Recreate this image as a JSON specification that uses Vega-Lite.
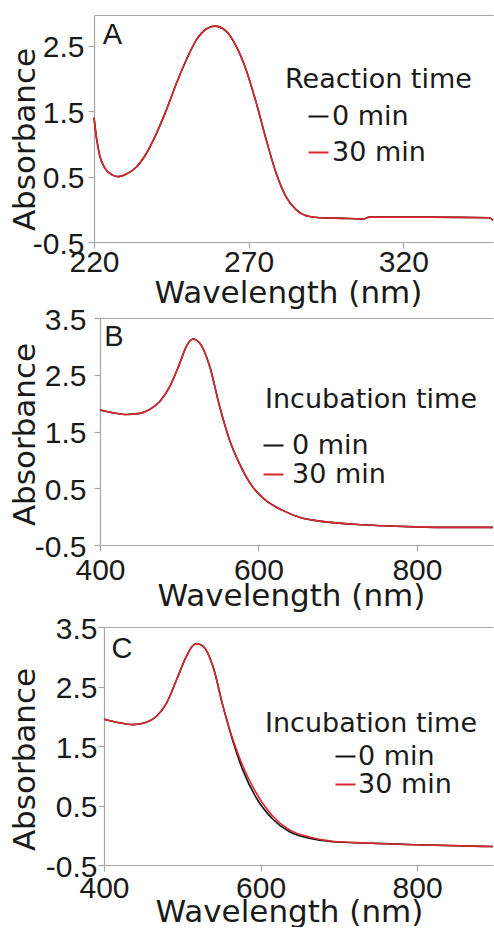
{
  "$schema": "https://vega.github.io/schema/vega-lite/v6.json",
  "background": "white",
  "padding": {"left": 8, "top": 15, "right": 0, "bottom": 0},
  "autosize": {"type": "pad"},
  "datasets": {
    "A": [
      {"wl": 220, "abs": 1.40, "time": "0 min"}, {"wl": 220.9, "abs": 1.06, "time": "0 min"}, {"wl": 221.9, "abs": 0.81, "time": "0 min"}, {"wl": 223.5, "abs": 0.63, "time": "0 min"}, {"wl": 225.7, "abs": 0.53, "time": "0 min"}, {"wl": 227.8, "abs": 0.50, "time": "0 min"}, {"wl": 230.5, "abs": 0.54, "time": "0 min"}, {"wl": 233.8, "abs": 0.65, "time": "0 min"}, {"wl": 237, "abs": 0.86, "time": "0 min"}, {"wl": 240.2, "abs": 1.16, "time": "0 min"}, {"wl": 243.4, "abs": 1.52, "time": "0 min"}, {"wl": 246.7, "abs": 1.93, "time": "0 min"}, {"wl": 249.9, "abs": 2.29, "time": "0 min"}, {"wl": 253.1, "abs": 2.59, "time": "0 min"}, {"wl": 256.4, "abs": 2.76, "time": "0 min"}, {"wl": 259, "abs": 2.80, "time": "0 min"}, {"wl": 262.8, "abs": 2.72, "time": "0 min"}, {"wl": 266, "abs": 2.49, "time": "0 min"}, {"wl": 269.2, "abs": 2.13, "time": "0 min"}, {"wl": 272.5, "abs": 1.62, "time": "0 min"}, {"wl": 275.7, "abs": 1.06, "time": "0 min"}, {"wl": 278.9, "abs": 0.55, "time": "0 min"}, {"wl": 282.1, "abs": 0.19, "time": "0 min"}, {"wl": 285.4, "abs": -0.01, "time": "0 min"}, {"wl": 288.6, "abs": -0.10, "time": "0 min"}, {"wl": 292.9, "abs": -0.13, "time": "0 min"}, {"wl": 302.6, "abs": -0.14, "time": "0 min"}, {"wl": 307, "abs": -0.15, "time": "0 min"}, {"wl": 309, "abs": -0.12, "time": "0 min"}, {"wl": 329.5, "abs": -0.12, "time": "0 min"}, {"wl": 347.7, "abs": -0.13, "time": "0 min"}, {"wl": 349, "abs": -0.17, "time": "0 min"},
      {"wl": 220, "abs": 1.40, "time": "30 min"}, {"wl": 220.9, "abs": 1.06, "time": "30 min"}, {"wl": 221.9, "abs": 0.81, "time": "30 min"}, {"wl": 223.5, "abs": 0.63, "time": "30 min"}, {"wl": 225.7, "abs": 0.53, "time": "30 min"}, {"wl": 227.8, "abs": 0.50, "time": "30 min"}, {"wl": 230.5, "abs": 0.54, "time": "30 min"}, {"wl": 233.8, "abs": 0.65, "time": "30 min"}, {"wl": 237, "abs": 0.86, "time": "30 min"}, {"wl": 240.2, "abs": 1.16, "time": "30 min"}, {"wl": 243.4, "abs": 1.52, "time": "30 min"}, {"wl": 246.7, "abs": 1.93, "time": "30 min"}, {"wl": 249.9, "abs": 2.29, "time": "30 min"}, {"wl": 253.1, "abs": 2.59, "time": "30 min"}, {"wl": 256.4, "abs": 2.76, "time": "30 min"}, {"wl": 259, "abs": 2.80, "time": "30 min"}, {"wl": 262.8, "abs": 2.72, "time": "30 min"}, {"wl": 266, "abs": 2.49, "time": "30 min"}, {"wl": 269.2, "abs": 2.13, "time": "30 min"}, {"wl": 272.5, "abs": 1.62, "time": "30 min"}, {"wl": 275.7, "abs": 1.06, "time": "30 min"}, {"wl": 278.9, "abs": 0.55, "time": "30 min"}, {"wl": 282.1, "abs": 0.19, "time": "30 min"}, {"wl": 285.4, "abs": -0.01, "time": "30 min"}, {"wl": 288.6, "abs": -0.10, "time": "30 min"}, {"wl": 292.9, "abs": -0.13, "time": "30 min"}, {"wl": 302.6, "abs": -0.14, "time": "30 min"}, {"wl": 307, "abs": -0.15, "time": "30 min"}, {"wl": 309, "abs": -0.12, "time": "30 min"}, {"wl": 329.5, "abs": -0.12, "time": "30 min"}, {"wl": 347.7, "abs": -0.13, "time": "30 min"}, {"wl": 349, "abs": -0.17, "time": "30 min"}
    ],
    "B": [
      {"wl": 400, "abs": 1.88, "time": "0 min"}, {"wl": 416.8, "abs": 1.83, "time": "0 min"}, {"wl": 433.5, "abs": 1.80, "time": "0 min"}, {"wl": 450.3, "abs": 1.82, "time": "0 min"}, {"wl": 462.9, "abs": 1.89, "time": "0 min"}, {"wl": 475.5, "abs": 2.03, "time": "0 min"}, {"wl": 488, "abs": 2.29, "time": "0 min"}, {"wl": 500.6, "abs": 2.70, "time": "0 min"}, {"wl": 509, "abs": 3.00, "time": "0 min"}, {"wl": 517.4, "abs": 3.13, "time": "0 min"}, {"wl": 525.8, "abs": 3.06, "time": "0 min"}, {"wl": 538.4, "abs": 2.65, "time": "0 min"}, {"wl": 551, "abs": 1.94, "time": "0 min"}, {"wl": 563.5, "abs": 1.35, "time": "0 min"}, {"wl": 576.1, "abs": 0.93, "time": "0 min"}, {"wl": 592.9, "abs": 0.52, "time": "0 min"}, {"wl": 609.7, "abs": 0.28, "time": "0 min"}, {"wl": 630.6, "abs": 0.11, "time": "0 min"}, {"wl": 651.6, "abs": -0.01, "time": "0 min"}, {"wl": 672.6, "abs": -0.07, "time": "0 min"}, {"wl": 714.5, "abs": -0.13, "time": "0 min"}, {"wl": 756.4, "abs": -0.16, "time": "0 min"}, {"wl": 798.3, "abs": -0.18, "time": "0 min"}, {"wl": 840.3, "abs": -0.19, "time": "0 min"}, {"wl": 896, "abs": -0.19, "time": "0 min"},
      {"wl": 400, "abs": 1.88, "time": "30 min"}, {"wl": 416.8, "abs": 1.83, "time": "30 min"}, {"wl": 433.5, "abs": 1.80, "time": "30 min"}, {"wl": 450.3, "abs": 1.82, "time": "30 min"}, {"wl": 462.9, "abs": 1.89, "time": "30 min"}, {"wl": 475.5, "abs": 2.03, "time": "30 min"}, {"wl": 488, "abs": 2.29, "time": "30 min"}, {"wl": 500.6, "abs": 2.70, "time": "30 min"}, {"wl": 509, "abs": 3.00, "time": "30 min"}, {"wl": 517.4, "abs": 3.13, "time": "30 min"}, {"wl": 525.8, "abs": 3.06, "time": "30 min"}, {"wl": 538.4, "abs": 2.65, "time": "30 min"}, {"wl": 551, "abs": 1.94, "time": "30 min"}, {"wl": 563.5, "abs": 1.35, "time": "30 min"}, {"wl": 576.1, "abs": 0.93, "time": "30 min"}, {"wl": 592.9, "abs": 0.52, "time": "30 min"}, {"wl": 609.7, "abs": 0.28, "time": "30 min"}, {"wl": 630.6, "abs": 0.11, "time": "30 min"}, {"wl": 651.6, "abs": -0.01, "time": "30 min"}, {"wl": 672.6, "abs": -0.07, "time": "30 min"}, {"wl": 714.5, "abs": -0.13, "time": "30 min"}, {"wl": 756.4, "abs": -0.16, "time": "30 min"}, {"wl": 798.3, "abs": -0.18, "time": "30 min"}, {"wl": 840.3, "abs": -0.19, "time": "30 min"}, {"wl": 896, "abs": -0.19, "time": "30 min"}
    ],
    "C": [
      {"wl": 400, "abs": 1.95, "time": "0 min"}, {"wl": 416.2, "abs": 1.90, "time": "0 min"}, {"wl": 437.3, "abs": 1.86, "time": "0 min"}, {"wl": 454.4, "abs": 1.90, "time": "0 min"}, {"wl": 467.1, "abs": 2.00, "time": "0 min"}, {"wl": 479.9, "abs": 2.22, "time": "0 min"}, {"wl": 492.6, "abs": 2.61, "time": "0 min"}, {"wl": 505.4, "abs": 3.01, "time": "0 min"}, {"wl": 513, "abs": 3.18, "time": "0 min"}, {"wl": 518.1, "abs": 3.22, "time": "0 min"}, {"wl": 526.5, "abs": 3.18, "time": "0 min"}, {"wl": 539.2, "abs": 2.84, "time": "0 min"}, {"wl": 552, "abs": 2.17, "time": "0 min"}, {"wl": 564.7, "abs": 1.58, "time": "0 min"}, {"wl": 577.5, "abs": 1.09, "time": "0 min"}, {"wl": 594.5, "abs": 0.63, "time": "0 min"}, {"wl": 615.7, "abs": 0.27, "time": "0 min"}, {"wl": 637, "abs": 0.06, "time": "0 min"}, {"wl": 662.4, "abs": -0.05, "time": "0 min"}, {"wl": 692.1, "abs": -0.11, "time": "0 min"}, {"wl": 734.6, "abs": -0.13, "time": "0 min"}, {"wl": 798.3, "abs": -0.16, "time": "0 min"}, {"wl": 897, "abs": -0.19, "time": "0 min"},
      {"wl": 400, "abs": 1.95, "time": "30 min"}, {"wl": 416.2, "abs": 1.90, "time": "30 min"}, {"wl": 437.3, "abs": 1.86, "time": "30 min"}, {"wl": 454.4, "abs": 1.90, "time": "30 min"}, {"wl": 467.1, "abs": 2.00, "time": "30 min"}, {"wl": 479.9, "abs": 2.22, "time": "30 min"}, {"wl": 492.6, "abs": 2.61, "time": "30 min"}, {"wl": 505.4, "abs": 3.01, "time": "30 min"}, {"wl": 513, "abs": 3.18, "time": "30 min"}, {"wl": 518.1, "abs": 3.22, "time": "30 min"}, {"wl": 526.5, "abs": 3.18, "time": "30 min"}, {"wl": 539.2, "abs": 2.84, "time": "30 min"}, {"wl": 552, "abs": 2.17, "time": "30 min"}, {"wl": 564.7, "abs": 1.61, "time": "30 min"}, {"wl": 577.5, "abs": 1.16, "time": "30 min"}, {"wl": 594.5, "abs": 0.71, "time": "30 min"}, {"wl": 615.7, "abs": 0.32, "time": "30 min"}, {"wl": 637, "abs": 0.09, "time": "30 min"}, {"wl": 662.4, "abs": -0.03, "time": "30 min"}, {"wl": 692.1, "abs": -0.10, "time": "30 min"}, {"wl": 734.6, "abs": -0.13, "time": "30 min"}, {"wl": 798.3, "abs": -0.16, "time": "30 min"}, {"wl": 897, "abs": -0.19, "time": "30 min"}
    ],
    "labels": [{"panel": "A"}, {"panel": "B"}, {"panel": "C"}]
  },
  "columns": 1,
  "align": "none",
  "spacing": -3,
  "resolve": {"scale": {"color": "independent"}},
  "concat": [
    {
      "width": 399, "height": 227,
      "layer": [
        {
          "data": {"name": "A"},
          "mark": {"type": "line", "strokeWidth": 1.6, "interpolate": "monotone"},
          "encoding": {
            "x": {"field": "wl", "type": "quantitative", "scale": {"domain": [220, 349], "nice": false, "zero": false},
                  "axis": {"values": [220, 270, 320], "labelPadding": -1, "title": "Wavelength (nm)", "titleX": 194, "titleY": 60, "titleBaseline": "alphabetic"}},
            "y": {"field": "abs", "type": "quantitative", "scale": {"domain": [-0.5, 2.97], "nice": false, "zero": false},
                  "axis": {"values": [-0.5, 0.5, 1.5, 2.5], "labelExpr": "datum.value < 0 ? '-' + format(-datum.value, '.1f') : format(datum.value, '.1f')", "labelPadding": 4, "labelOffset": 2, "title": "Absorbance", "titleX": -60, "titleY": 124, "titleBaseline": "alphabetic"}},
            "color": {"field": "time", "type": "nominal", "scale": {"domain": ["0 min", "30 min"], "range": ["#111111", "#d8282d"]},
                      "legend": {"title": "Reaction time", "orient": "none", "legendX": 191, "legendY": 52, "symbolOffset": 20, "labelOffset": 0, "rowPadding": 8, "titlePadding": 9}}
          }
        },
        {
          "data": {"name": "labels"},
          "transform": [{"filter": "datum.panel == 'A'"}],
          "mark": {"type": "text", "align": "left", "baseline": "alphabetic", "font": "Liberation Sans", "fontSize": 29, "color": "#1a1a1a"},
          "encoding": {
            "x": {"datum": 222.8, "type": "quantitative", "axis": {"orient": "top", "labels": false, "ticks": false, "title": null, "domain": true}},
            "y": {"datum": 2.52, "type": "quantitative"},
            "text": {"field": "panel"}
          }
        }
      ],
      "resolve": {"axis": {"x": "independent"}}
    },
    {
      "width": 399, "height": 227,
      "layer": [
        {
          "data": {"name": "B"},
          "mark": {"type": "line", "strokeWidth": 1.6, "interpolate": "monotone"},
          "encoding": {
            "x": {"field": "wl", "type": "quantitative", "scale": {"domain": [400, 896], "range": [6, 399], "nice": false, "zero": false},
                  "axis": {"values": [400, 600, 800], "labelPadding": 4, "title": ["Wavelength (nm)", ""], "titleLineHeight": 6, "titleX": 197, "titleY": 60, "titleBaseline": "alphabetic"}},
            "y": {"field": "abs", "type": "quantitative", "scale": {"domain": [-0.5, 3.5], "nice": false, "zero": false},
                  "axis": {"values": [-0.5, 0.5, 1.5, 2.5, 3.5], "offset": -6, "labelExpr": "datum.value < 0 ? '-' + format(-datum.value, '.1f') : format(datum.value, '.1f')", "labelPadding": 8, "labelOffset": 2, "title": "Absorbance", "titleX": -66, "titleY": 116, "titleBaseline": "alphabetic"}},
            "color": {"field": "time", "type": "nominal", "scale": {"domain": ["0 min", "30 min"], "range": ["#111111", "#d8282d"]},
                      "legend": {"title": "Incubation time", "orient": "none", "legendX": 171, "legendY": 69, "symbolOffset": -5, "labelOffset": 5, "rowPadding": 1, "titlePadding": 18}}
          }
        },
        {
          "data": {"name": "labels"},
          "transform": [{"filter": "datum.panel == 'B'"}],
          "mark": {"type": "text", "align": "left", "baseline": "alphabetic", "font": "Liberation Sans", "fontSize": 29, "color": "#1a1a1a"},
          "encoding": {
            "x": {"datum": 405.5, "type": "quantitative", "axis": {"orient": "top", "labels": false, "ticks": false, "title": null, "domain": true}},
            "y": {"datum": 3.0, "type": "quantitative"},
            "text": {"field": "panel"}
          }
        }
      ],
      "resolve": {"axis": {"x": "independent"}}
    },
    {
      "width": 399, "height": 238,
      "layer": [
        {
          "data": {"name": "C"},
          "mark": {"type": "line", "strokeWidth": 1.6, "interpolate": "monotone"},
          "encoding": {
            "x": {"field": "wl", "type": "quantitative", "scale": {"domain": [400, 897], "range": [10, 399], "nice": false, "zero": false},
                  "axis": {"values": [400, 600, 800], "labelPadding": 2, "title": "Wavelength (nm)", "titleX": 195, "titleY": 56, "titleBaseline": "alphabetic"}},
            "y": {"field": "abs", "type": "quantitative", "scale": {"domain": [-0.5, 3.5], "nice": false, "zero": false},
                  "axis": {"values": [-0.5, 0.5, 1.5, 2.5, 3.5], "offset": -10, "labelExpr": "datum.value < 0 ? '-' + format(-datum.value, '.1f') : format(datum.value, '.1f')", "labelPadding": 1, "labelOffset": 2, "title": "Absorbance", "titleX": -70, "titleY": 132, "titleBaseline": "alphabetic"}},
            "color": {"field": "time", "type": "nominal", "scale": {"domain": ["0 min", "30 min"], "range": ["#111111", "#d8282d"]},
                      "legend": {"title": "Incubation time", "orient": "none", "legendX": 171, "legendY": 84, "symbolOffset": 67, "labelOffset": -1, "rowPadding": 0, "titlePadding": 5}}
          }
        },
        {
          "data": {"name": "labels"},
          "transform": [{"filter": "datum.panel == 'C'"}],
          "mark": {"type": "text", "align": "left", "baseline": "alphabetic", "font": "Liberation Sans", "fontSize": 29, "color": "#1a1a1a"},
          "encoding": {
            "x": {"datum": 409.5, "type": "quantitative", "axis": {"orient": "top", "labels": false, "ticks": false, "title": null, "domain": true}},
            "y": {"datum": 2.98, "type": "quantitative"},
            "text": {"field": "panel"}
          }
        }
      ],
      "resolve": {"axis": {"x": "independent"}}
    }
  ],
  "config": {
    "view": {"stroke": null},
    "font": "Liberation Sans",
    "axis": {"domainColor": "#a6a6a6", "tickColor": "#a6a6a6", "domainWidth": 1.2, "tickWidth": 1.2, "grid": false, "tickSize": 6,
             "labelFont": "Liberation Sans", "labelFontSize": 30, "labelColor": "#1a1a1a", "labelFlush": false, "labelOverlap": false, "labelBound": false,
             "titleFont": "DejaVu Sans", "titleFontSize": 31, "titleFontWeight": "normal", "titleColor": "#1a1a1a"},
    "legend": {"titleFont": "DejaVu Sans", "titleFontSize": 27, "titleFontWeight": "normal", "titleColor": "#1a1a1a",
               "labelFont": "DejaVu Sans", "labelFontSize": 27, "labelColor": "#1a1a1a",
               "symbolType": "stroke", "symbolSize": 400, "symbolStrokeWidth": 2, "padding": 0, "titleLimit": 400, "labelLimit": 300}
  }
}
